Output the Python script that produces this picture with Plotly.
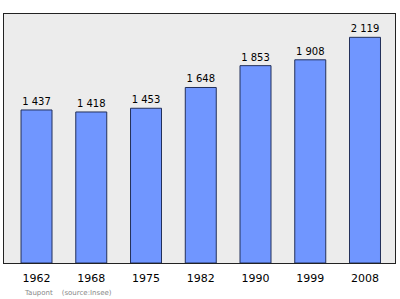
import plotly.graph_objects as go

years = ["1962", "1968", "1975", "1982", "1990", "1999", "2008"]
population = [1437, 1418, 1453, 1648, 1853, 1908, 2119]
labels = ["1 437", "1 418", "1 453", "1 648", "1 853", "1 908", "2 119"]

x = list(range(len(years)))

fig = go.Figure(go.Bar(
    x=x, y=population, width=0.566,
    marker=dict(color="#7096ff", line=dict(color="#23305a", width=1)),
    text=labels, textposition="outside", cliponaxis=False,
    textfont=dict(family="DejaVu Sans", size=10, color="#000"),
))

fig.update_layout(
    width=400, height=299,
    margin=dict(l=4, r=5, t=14, b=36),
    paper_bgcolor="white", plot_bgcolor="#ececec",
    showlegend=False,
    xaxis=dict(range=[-0.594, 6.548], tickvals=x, ticktext=years,
               showgrid=False, zeroline=False,
               ticks="outside", ticklen=5, tickcolor="rgba(0,0,0,0)",
               showline=True, linecolor="#222", linewidth=1, mirror=True,
               tickfont=dict(family="DejaVu Sans", size=11, color="#000")),
    yaxis=dict(range=[0, 2338], showticklabels=False, showgrid=False,
               zeroline=False, ticks="",
               showline=True, linecolor="#222", linewidth=1, mirror=True),
    annotations=[dict(text="Taupont    (source:Insee)", xref="paper", yref="paper",
                      x=0.045, y=-0.12, xanchor="left", yanchor="middle",
                      showarrow=False,
                      font=dict(family="DejaVu Sans", size=7, color="#888"))],
)

fig.write_html("out.html")
